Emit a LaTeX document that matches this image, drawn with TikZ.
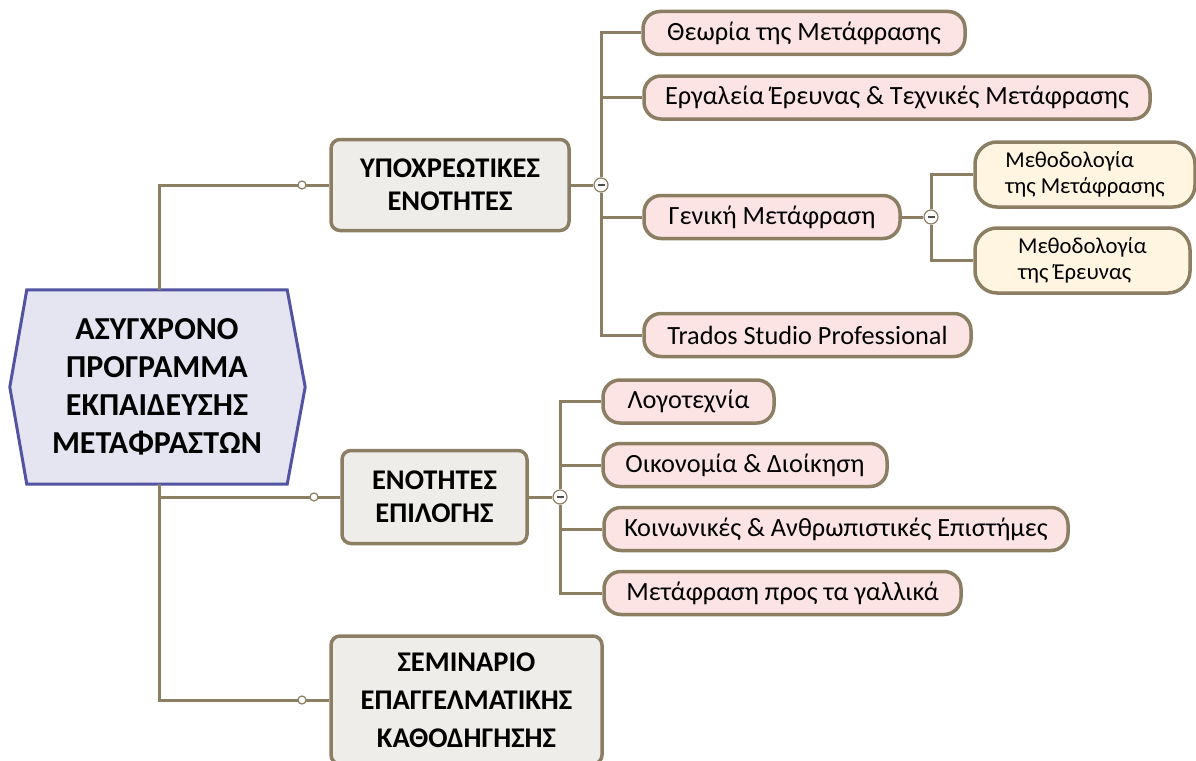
\documentclass[tikz,border=0pt]{standalone}
\usepackage{fontspec}
\setmainfont{Carlito}
\usetikzlibrary{calc,backgrounds}
\definecolor{ln}{HTML}{8C7E62}
\definecolor{gfill}{HTML}{EEEDE9}
\definecolor{pfill}{HTML}{FDE4E4}
\definecolor{yfill}{HTML}{FFF5E1}
\definecolor{rfill}{HTML}{E5E5F1}
\definecolor{rline}{HTML}{5353A3}
\begin{document}
\begin{tikzpicture}[x=1pt,y=-1pt,
  conn/.style={draw=ln,line width=3pt},
  hdr/.style={draw=ln,line width=3.5pt,fill=gfill,rounded corners=9pt,
    font=\bfseries\fontsize{28.5}{33}\selectfont,align=center,inner sep=0pt},
  leaf/.style={draw=ln,line width=3.5pt,fill=pfill,rounded corners=17pt,
    font=\fontsize{26.3}{30}\selectfont,minimum height=43pt,inner sep=0pt},
  subleaf/.style={draw=ln,line width=3.5pt,fill=yfill,rounded corners=22pt,
    font=\fontsize{22.7}{26}\selectfont,minimum height=65pt,inner sep=0pt,align=left},
  rootn/.style={font=\bfseries\fontsize{32}{38}\selectfont,align=center,inner sep=0pt},
  dotn/.style={circle,draw=ln,fill=white,line width=1.2pt,minimum size=8pt,inner sep=0pt},
  colln/.style={circle,draw=ln,fill=white,line width=1.2pt,minimum size=14pt,inner sep=0pt,
    path picture={\draw[line width=1.5pt,black!70] ($(path picture bounding box.center)+(-3.5,0)$) -- ++(7,0);}}
]
\useasboundingbox (0,0) rectangle (1196,760);

% root
\node[rootn,minimum width=260pt,minimum height=194pt] (root) at (157,387)
  {ΑΣΥΓΧΡΟΝΟ\\ΠΡΟΓΡΑΜΜΑ\\ΕΚΠΑΙΔΕΥΣΗΣ\\ΜΕΤΑΦΡΑΣΤΩΝ};
\begin{scope}[on background layer]
\draw[draw=rline,fill=rfill,line width=3pt]
  (root.north west) -- (root.north east) -- ($(root.east)+(18,0)$) --
  (root.south east) -- (root.south west) -- ($(root.west)+(-17,0)$) -- cycle;
\end{scope}

% main headers
\node[hdr,minimum width=238pt,minimum height=91pt] (h1) at (450,185) {ΥΠΟΧΡΕΩΤΙΚΕΣ\\ΕΝΟΤΗΤΕΣ};
\node[hdr,minimum width=185pt,minimum height=93pt] (h2) at (434.5,497) {ΕΝΟΤΗΤΕΣ\\ΕΠΙΛΟΓΗΣ};
\node[hdr,minimum width=271pt,minimum height=128pt,font=\bfseries\fontsize{28.5}{38}\selectfont] (h3) at (466.5,700)
  {ΣΕΜΙΝΑΡΙΟ\\ΕΠΑΓΓΕΛΜΑΤΙΚΗΣ\\ΚΑΘΟΔΗΓΗΣΗΣ};

% branch 1 leaves
\node[leaf,minimum width=322pt] (a1) at (804,33) {Θεωρία της Μετάφρασης};
\node[leaf,minimum width=506pt] (a2) at (897,97.5) {Εργαλεία Έρευνας \& Τεχνικές Μετάφρασης};
\node[leaf,minimum width=256pt] (a3) at (772,217) {Γενική Μετάφραση};
\node[leaf,minimum width=327pt] (a4) at (807.5,335) {Trados Studio Professional};

% sub leaves
\node[subleaf,minimum width=220pt] (s1) at (1085,174.5) {Μεθοδολογία\\της Μετάφρασης};
\node[subleaf,minimum width=215pt] (s2) at (1082.5,260.5) {Μεθοδολογία\\της Έρευνας};

% branch 2 leaves
\node[leaf,minimum width=171pt] (b1) at (688.5,401.5) {Λογοτεχνία};
\node[leaf,minimum width=284pt] (b2) at (745,465) {Οικονομία \& Διοίκηση};
\node[leaf,minimum width=464pt] (b3) at (836,529) {Κοινωνικές \& Ανθρωπιστικές Επιστήμες};
\node[leaf,minimum width=357pt] (b4) at (782.5,593) {Μετάφραση προς τα γαλλικά};

% junction markers
\node[dotn] (d1) at (302,185) {};
\node[dotn] (d2) at (314,497) {};
\node[dotn] (d3) at (302,700) {};
\node[colln] (c1) at (601,185) {};
\node[colln] (c2) at (560,497) {};
\node[colln] (c3) at (931,217) {};

\begin{scope}[on background layer]
\coordinate (trunk) at (159,387);
\draw[conn] (trunk |- root.north) |- (h1.west);
\draw[conn] (trunk |- root.south) |- (h2.west);
\draw[conn] (trunk |- root.south) |- (h3.west);
\draw[conn] (h1.east) -- (c1);
\draw[conn] (c1) |- (a1.west);
\draw[conn] (c1) |- (a2.west);
\draw[conn] (c1) |- (a3.west);
\draw[conn] (c1) |- (a4.west);
\draw[conn] (a3.east) -- (c3);
\draw[conn] (c3) |- (s1.west);
\draw[conn] (c3) |- (s2.west);
\draw[conn] (h2.east) -- (c2);
\draw[conn] (c2) |- (b1.west);
\draw[conn] (c2) |- (b2.west);
\draw[conn] (c2) |- (b3.west);
\draw[conn] (c2) |- (b4.west);
\end{scope}
\end{tikzpicture}
\end{document}
